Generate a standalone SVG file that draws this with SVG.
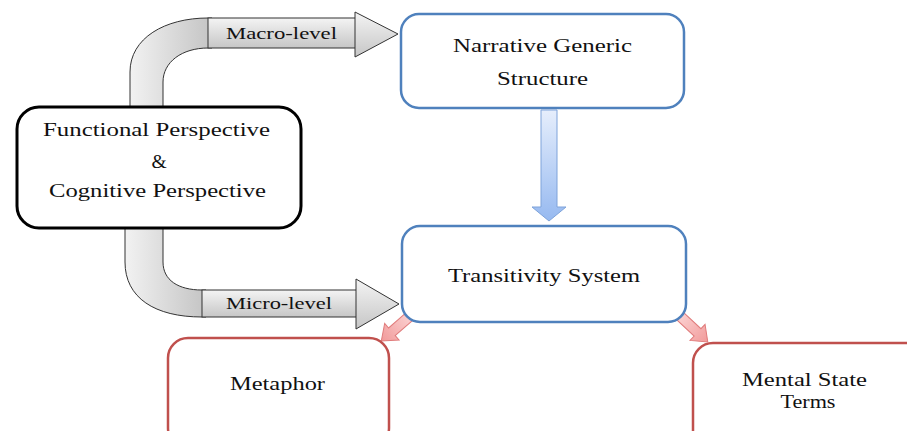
<svg xmlns="http://www.w3.org/2000/svg" width="907" height="431" viewBox="0 0 907 431">
<defs>
<linearGradient id="gv" x1="0" y1="0" x2="1" y2="0"><stop offset="0" stop-color="#f2f2f2"/><stop offset="1" stop-color="#c4c4c4"/></linearGradient>
<linearGradient id="gh" x1="0" y1="0" x2="0" y2="1"><stop offset="0" stop-color="#f4f4f4"/><stop offset="1" stop-color="#c6c6c6"/></linearGradient>
<linearGradient id="gb" x1="0" y1="0" x2="0" y2="1"><stop offset="0" stop-color="#e6eefc"/><stop offset="1" stop-color="#96b9f0"/></linearGradient>
<linearGradient id="gp" x1="0" y1="0" x2="1" y2="0"><stop offset="0" stop-color="#fbd0d0"/><stop offset="1" stop-color="#f19a9a"/></linearGradient>
<style>
.txt{font-family:"Liberation Serif","Times New Roman",serif;fill:#111;text-anchor:middle;font-size:19.5px}
.lbl{font-size:16px}
.blue{fill:#fff;stroke:#4f81bd;stroke-width:2.5}
.red{fill:#fff;stroke:#c0504d;stroke-width:2.5}
.gray{stroke:#333;stroke-width:1}
.pink{fill:url(#gp);stroke:#e07b7b;stroke-width:1}
</style>
</defs>
<g id="connectors">
<path class="gray" fill="url(#gv)" d="M130,108 V72 C130,38 165,18 208,18 H212 V48 H208 C182,48 163,62 163,82 V108 Z"/>
<rect class="gray" x="208" y="18" width="148" height="30" fill="url(#gh)"/>
<polygon class="gray" points="355,12 398,34 355,57" fill="url(#gh)"/>
<text class="txt lbl" x="281.5" y="39" textLength="111" lengthAdjust="spacingAndGlyphs">Macro-level</text>
<path class="gray" fill="url(#gv)" d="M125,228 V262 C125,298 155,317 202,317 H206 V290 H202 C178,290 163,280 163,262 V228 Z"/>
<rect class="gray" x="202" y="290" width="155" height="27" fill="url(#gh)"/>
<polygon class="gray" points="356,279 399,304 356,329" fill="url(#gh)"/>
<text class="txt lbl" x="279" y="309" textLength="106" lengthAdjust="spacingAndGlyphs">Micro-level</text>
<path fill="url(#gb)" stroke="#7ea3da" stroke-width="1" d="M541,110 H557 V207 H566 L549,221 L532,207 H541 Z"/>
<path class="pink" transform="translate(410,316) rotate(139)" d="M0,-5 L24,-5 L24,-11 L38,0 L24,11 L24,5 L0,5 Z"/>
<path class="pink" transform="translate(680,316) rotate(43)" d="M0,-5 L24,-5 L24,-11 L38,0 L24,11 L24,5 L0,5 Z"/>
</g>
<g id="center">
<rect x="17" y="107" width="284" height="121" rx="22" fill="#fff" stroke="#000" stroke-width="3"/>
<text class="txt" x="156.5" y="136" textLength="227" lengthAdjust="spacingAndGlyphs">Functional Perspective</text>
<text class="txt" x="159" y="168">&amp;</text>
<text class="txt" x="157.5" y="197" textLength="217" lengthAdjust="spacingAndGlyphs">Cognitive Perspective</text>
</g>
<g id="narrative">
<rect class="blue" x="401" y="14" width="283" height="94" rx="18"/>
<text class="txt" x="542.5" y="52" textLength="179" lengthAdjust="spacingAndGlyphs">Narrative Generic</text>
<text class="txt" x="542.5" y="85" textLength="91" lengthAdjust="spacingAndGlyphs">Structure</text>
</g>
<g id="transitivity">
<rect class="blue" x="402" y="226" width="284" height="96" rx="18"/>
<text class="txt" x="544" y="282" textLength="192" lengthAdjust="spacingAndGlyphs">Transitivity System</text>
</g>
<g id="metaphor">
<rect class="red" x="168" y="338" width="221" height="110" rx="20"/>
<text class="txt" x="277.5" y="390" textLength="95" lengthAdjust="spacingAndGlyphs">Metaphor</text>
</g>
<g id="mental">
<rect class="red" x="693" y="343" width="240" height="110" rx="20"/>
<text class="txt" x="804.5" y="386" textLength="125" lengthAdjust="spacingAndGlyphs">Mental State</text>
<text class="txt" x="808" y="408" textLength="55" lengthAdjust="spacingAndGlyphs">Terms</text>
</g>
</svg>
